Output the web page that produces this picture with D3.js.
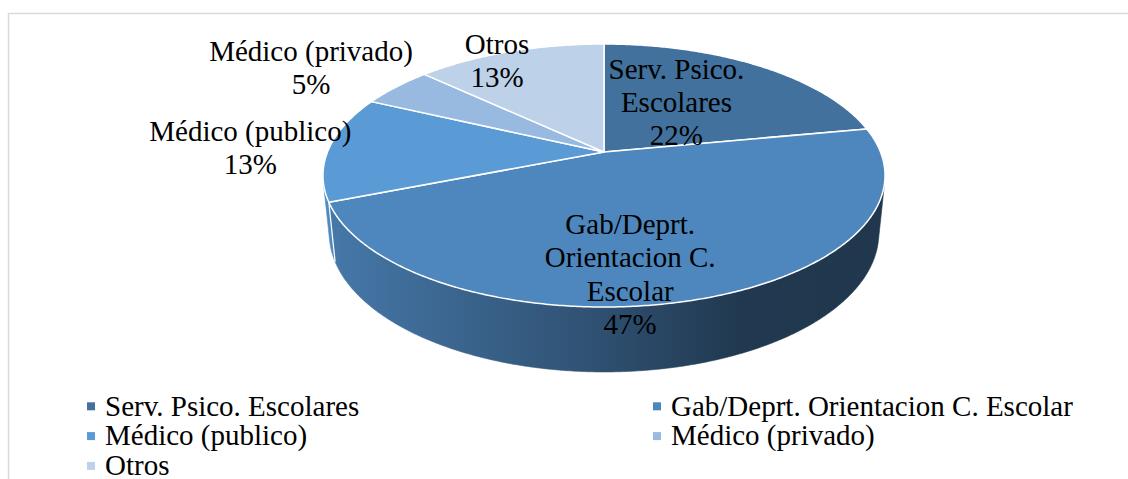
<!DOCTYPE html>
<html>
<head>
<meta charset="utf-8">
<script src="https://cdn.jsdelivr.net/npm/d3@7"></script>
<style>
  html, body { margin: 0; padding: 0; background: #ffffff; }
  svg { display: block; }
</style>
</head>
<body>
<svg id="chart" width="1128" height="479"></svg>
<script>
// ---------- DATA ----------
const categories = ["Serv. Psico. Escolares", "Gab/Deprt. Orientacion C. Escolar", "Médico (publico)", "Médico (privado)", "Otros"];
const values = [22, 47, 13, 5, 13];
const labelLines = [
  ["Serv. Psico.", "Escolares"],
  ["Gab/Deprt.", "Orientacion C.", "Escolar"],
  ["Médico (publico)"],
  ["Médico (privado)"],
  ["Otros"]
];
const colors = ["#41719C", "#4E87BD", "#5B9BD5", "#98B9E0", "#BDD1E9"];

// ---------- LAYOUT ----------
const W = 1128, H = 479;
const FONT = "'Liberation Serif', Tinos, 'Times New Roman', 'DejaVu Serif', serif";
const svg = d3.select("#chart").attr("font-family", FONT);

// chart border
svg.append("rect")
  .attr("x", 8.5).attr("y", 13.5)
  .attr("width", W + 20).attr("height", H + 20)
  .attr("fill", "none").attr("stroke", "#D9D9D9").attr("stroke-width", 1.5);

// 3D perspective projection for the pie
const cam = { cx: 604, cy: 152, s: 276.5, sinA: 0.4604, cosA: 0.8877, d: 4.967, h: 0.237 };
function project(phi, r, level) { // level 0 = top, 1 = bottom
  const x = r * Math.sin(phi), z = -r * Math.cos(phi), y = -level * cam.h;
  const u = y * cam.cosA - z * cam.sinA;
  const w = cam.d - z * cam.cosA - y * cam.sinA;
  const f = cam.d / w;
  return [cam.cx + cam.s * x * f, cam.cy - cam.s * u * f];
}

const pie = d3.pie().sort(null).value(d => d).startAngle(0).endAngle(2 * Math.PI);
const arcs = pie(values);
const total = d3.sum(values);

function arcPoints(a0, a1, r, level) {
  const n = Math.max(2, Math.ceil((a1 - a0) / (Math.PI / 360)));
  return d3.range(n + 1).map(i => project(a0 + (a1 - a0) * i / n, r, level));
}
const line = d3.line();

// visible side range (front facing part of the cylinder)
const visLimit = Math.acos(-1 / (cam.d * cam.cosA));
const visA0 = visLimit, visA1 = 2 * Math.PI - visLimit;

// gradients for side shading
const defs = svg.append("defs");
const gx0 = cam.cx - cam.s * 1.02, gx1 = cam.cx + cam.s * 1.02;
const shadeStops = [[0, 0.3], [0.49, 1.45], [0.74, 2.4], [1, 2.5]];
arcs.forEach((a, i) => {
  const g = defs.append("linearGradient").attr("id", "side" + i)
    .attr("gradientUnits", "userSpaceOnUse")
    .attr("x1", gx0).attr("x2", gx1).attr("y1", 0).attr("y2", 0);
  shadeStops.forEach(([o, k]) => {
    g.append("stop").attr("offset", o).attr("stop-color", d3.color(colors[i]).darker(k).formatHex());
  });
});

const gPie = svg.append("g");

// sides
arcs.forEach((a, i) => {
  const s0 = Math.max(a.startAngle, visA0), s1 = Math.min(a.endAngle, visA1);
  if (s1 <= s0) return;
  const top = arcPoints(s0, s1, 1, 0);
  const bot = arcPoints(s0, s1, 1, 1).reverse();
  gPie.append("path").attr("d", line(top.concat(bot)) + "Z")
    .attr("fill", `url(#side${i})`).attr("stroke", `url(#side${i})`).attr("stroke-width", 0.6);
});
// boundary lines on the side
arcs.forEach(a => {
  const b = a.startAngle;
  if (b > visA0 && b < visA1) {
    gPie.append("path").attr("d", line([project(b, 1, 0), project(b, 1, 1)]))
      .attr("stroke", "#ffffff").attr("stroke-width", 1.2).attr("fill", "none");
  }
});

// top faces
arcs.forEach((a, i) => {
  const pts = [project(0, 0, 0)].concat(arcPoints(a.startAngle, a.endAngle, 1, 0));
  gPie.append("path").attr("d", line(pts) + "Z")
    .attr("fill", colors[i]).attr("stroke", "#ffffff").attr("stroke-width", 1.5)
    .attr("stroke-linejoin", "round");
});

// data labels
const labelLayout = [
  { r: 0.5, dx: -10, dy: -4 },
  { r: 0.5, dx: -16, dy: 55 },
  { r: 1.3, dx: 3, dy: 1 },
  { r: 1.3, dx: -30, dy: -2 },
  { r: 0.85, dx: -25, dy: -4 }
];
const fontSize = 29, lh = 33.3;
arcs.forEach((a, i) => {
  const mid = (a.startAngle + a.endAngle) / 2;
  const L = labelLayout[i];
  const p = project(mid, L.r, 0);
  const cx = p[0] + L.dx, cy = p[1] + L.dy;
  const lines = labelLines[i].concat([Math.round(values[i] / total * 100) + "%"]);
  const t = svg.append("text").attr("text-anchor", "middle").attr("font-size", fontSize)
    .attr("font-family", FONT).attr("fill", "#000");
  lines.forEach((ln, j) => {
    t.append("tspan").attr("x", cx)
      .attr("y", cy + 10 - (lines.length - 1) / 2 * lh + j * lh)
      .text(ln);
  });
});

// legend
const legCols = [87, 653], legRow0 = 406.3, legRowH = 29.8;
const leg = svg.append("g");
categories.forEach((c, i) => {
  const col = i % 2, row = Math.floor(i / 2);
  const x = legCols[col], yc = legRow0 + row * legRowH;
  leg.append("rect").attr("x", x).attr("y", yc - 4).attr("width", 8).attr("height", 8).attr("fill", colors[i]);
  leg.append("text").attr("x", x + 18).attr("y", yc + 9.3).attr("font-size", fontSize)
    .attr("font-family", FONT).attr("fill", "#000").text(c);
});
</script>
</body>
</html>
